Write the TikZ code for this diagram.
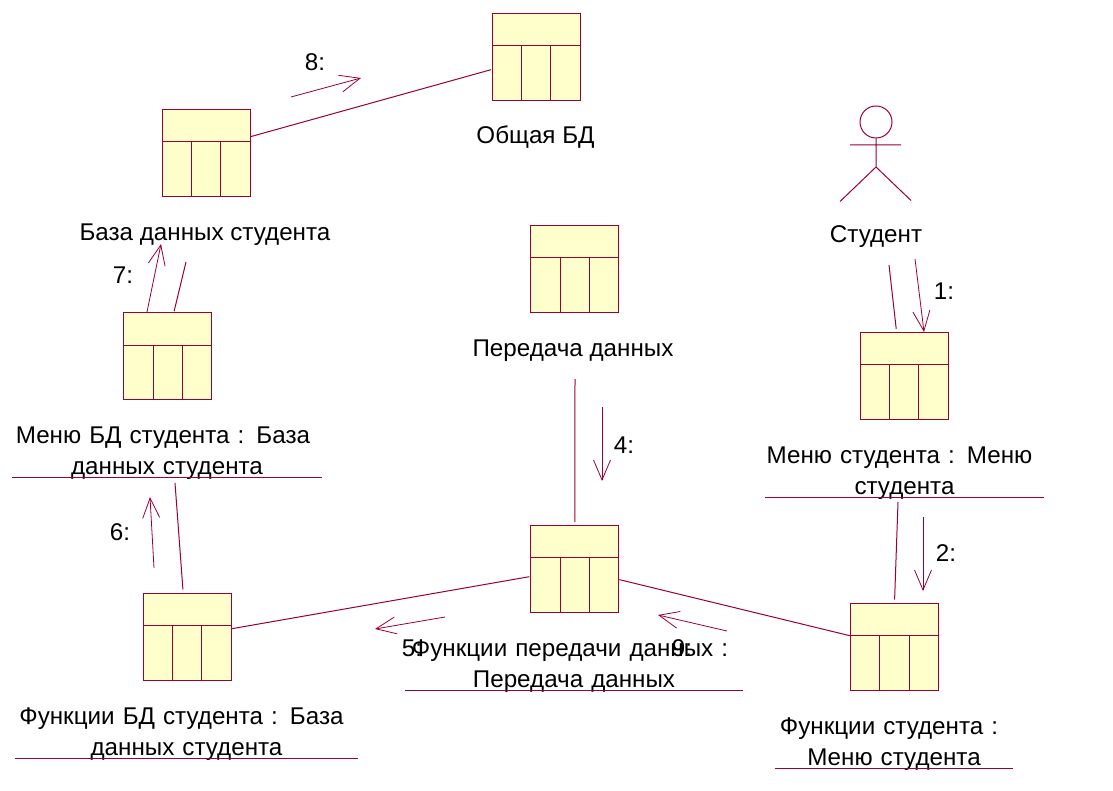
\documentclass[tikz,border=0pt]{standalone}
\usepackage{fontspec}
\setmainfont{Liberation Sans}
\usetikzlibrary{arrows.meta}
\definecolor{linkred}{HTML}{990033}
\definecolor{boxyellow}{HTML}{FFFFCC}
\tikzset{
	classbox/.style={draw=linkred, fill=boxyellow, line width=1pt, minimum width=88pt, minimum height=87pt, inner sep=0pt,
		path picture={
			\draw[linkred, line width=1pt] ([yshift=-32.5pt]path picture bounding box.north west) -- ([yshift=-32.5pt]path picture bounding box.north east);
			\draw[linkred, line width=1pt] ([xshift=29.3pt,yshift=-32.5pt]path picture bounding box.north west) -- ([xshift=29.3pt]path picture bounding box.south west);
			\draw[linkred, line width=1pt] ([xshift=58.6pt,yshift=-32.5pt]path picture bounding box.north west) -- ([xshift=58.6pt]path picture bounding box.south west);
		}},
	link/.style={draw=linkred, line width=1pt},
	msg/.style={draw=linkred, line width=0.8pt, -{Straight Barb[length=20pt,width=17pt]}},
	txt/.style={font=\fontsize{24.2}{30.5}\selectfont, text=black, inner sep=0pt},
	objlabel/.style={txt, align=center, anchor=south, text width=#1},
	rule/.style={draw=linkred, line width=1pt},
}
\begin{document}
\begin{tikzpicture}[x=1pt,y=-1pt]
	\useasboundingbox (0,0) rectangle (1113,791);
	\foreach \name/\cx/\cy in {commondb/536.3/56.7, studentdb/206.3/152.8, transfer/574.7/269, menudb/167.7/356.2, menustudent/904.3/375.8, functransfer/574.8/568.8, funcdb/187/636.5, funcstudent/894.5/646.5}
		\node[classbox] (\name) at (\cx,\cy) {};
	% actor
	\node[draw=linkred, line width=1pt, circle, minimum size=32pt, inner sep=0pt] (head) at (876,122) {};
	\coordinate (hip) at (876,167);
	\coordinate (handL) at (850,145);
	\coordinate (handR) at (901,145);
	\coordinate (footL) at (840,201.5);
	\coordinate (footR) at (911,200.5);
	\draw[link] (head) -- (hip) (handL) -- (handR) (footL) -- (hip) -- (footR);
	% names
	\node[txt] (commonname) at (535.5,137) {Общая БД};
	\node[txt] (studentdbname) at (205,234.5) {База данных студента};
	\node[txt] (actorname) at (876,236.5) {Студент};
	\node[txt] (transfername) at (573,350.5) {Передача данных};
	\node[objlabel=310pt] (menudbname) at (167,479.5) {Меню БД студента : База\kern8pt\\данных студента};
	\node[objlabel=279pt] (menustudentname) at (904.5,499.5) {Меню студента : Меню\kern10pt\\студента};
	\node[objlabel=338pt] (functransfername) at (574,692.5) {Функции передачи данных :\kern8pt\\Передача данных};
	\node[objlabel=343pt] (funcdbname) at (186.5,760.5) {Функции БД студента : База\kern10pt\\данных студента};
	\node[objlabel=238pt] (funcstudentname) at (894,770.5) {Функции студента :\kern10pt\\Меню студента};
	\draw[rule] ([yshift=2.5pt]menudbname.south west) -- ([yshift=2.5pt]menudbname.south east);
	\draw[rule] ([yshift=2.5pt]menustudentname.south west) -- ([yshift=2.5pt]menustudentname.south east);
	\draw[rule] ([yshift=2.5pt]functransfername.south west) -- ([yshift=2.5pt]functransfername.south east);
	\draw[rule] ([yshift=2.5pt]funcdbname.south west) -- ([yshift=2.5pt]funcdbname.south east);
	\draw[rule] ([yshift=2.5pt]funcstudentname.south west) -- ([yshift=2.5pt]funcstudentname.south east);
	% links
	\coordinate (endA) at (889,265);
	\coordinate (endB) at (898,502);
	\coordinate (endC) at (575,379);
	\coordinate (endD) at (186,262);
	\coordinate (endE) at (175,483);
	\draw[link, shorten >=1pt] (studentdb.20) -- (commondb.196);
	\draw[link, shorten >=1pt] (funcdb) -- (functransfer);
	\draw[link] (functransfer) -- (funcstudent);
	\draw[link, shorten >=3pt] (endA) -- (menustudent.100);
	\draw[link, shorten >=3pt] (endB) -- (funcstudent.north);
	\draw[link, shorten >=3pt] (endC) -- (functransfer.north);
	\draw[link, shorten <=1pt] (menudb.82) -- (endD);
	\draw[link, shorten <=3pt] (funcdb.95) -- (endE);
	% messages
	\foreach \num/\ax/\ay/\bx/\by/\tx/\ty in {8/291/97/361/78/315/62, 1/915/259/924/332/944/291, 2/923/517/923/591/946/553, 4/602/407/602/481/624/445, 7/147/312/161/244/123/275, 6/154/568/150/497/120/532, 5/445/617/375/629/412/648, 9/727/631/658/615/682/648} {
		\coordinate (msg\num a) at (\ax,\ay);
		\coordinate (msg\num b) at (\bx,\by);
		\draw[msg] (msg\num a) -- (msg\num b);
		\node[txt] (num\num) at (\tx,\ty) {\num:};
	}
\end{tikzpicture}
\end{document}
